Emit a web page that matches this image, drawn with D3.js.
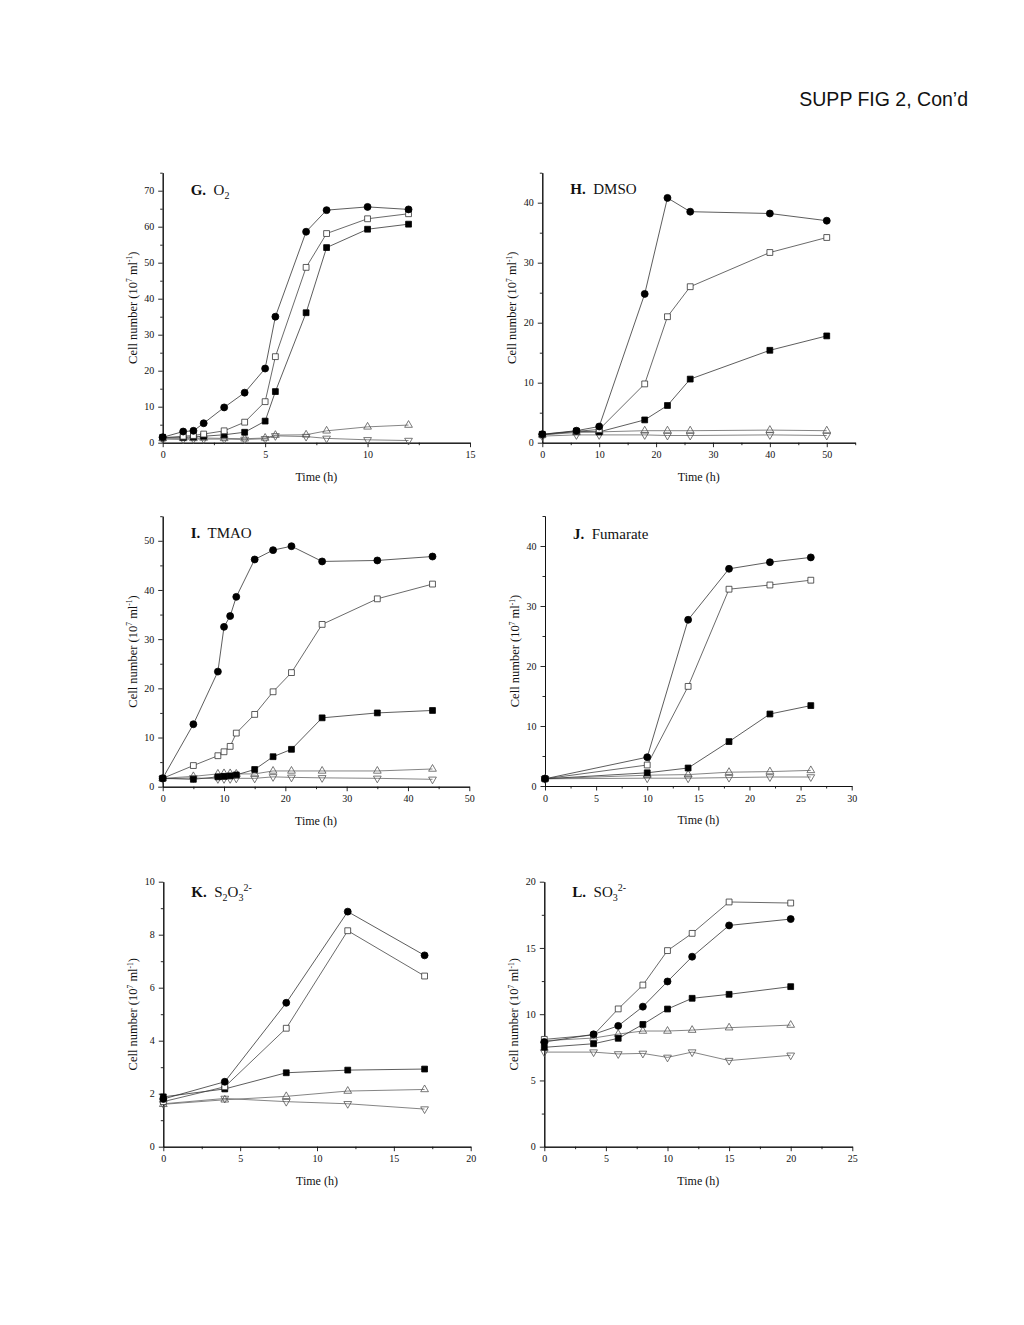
<!DOCTYPE html>
<html>
<head>
<meta charset="utf-8">
<script src="https://cdn.jsdelivr.net/npm/d3@7"></script>
<style>
  body { margin: 0; background: #fff; }
  svg text { font-family: "Liberation Serif", "Times New Roman", serif; fill: #111; }
</style>
</head>
<body>
<svg id="fig" width="1024" height="1325"></svg>
<script>
// ---- data (cell number, 10^7 per ml) ----
// series order: filled circle, open square, filled square, open triangle up, open triangle down

// G. O2
var gTime     = [0, 1, 1.5, 2, 3, 4, 5, 5.5, 7, 8, 10, 12];
var gCircle   = [1.5, 3.1, 3.3, 5.4, 9.8, 13.9, 20.6, 35.0, 58.6, 64.6, 65.5, 64.8];
var gOpenSq   = [1.3, 1.8, 2.0, 2.4, 3.3, 5.7, 11.4, 23.9, 48.7, 58.1, 62.2, 63.6];
var gFillSq   = [1.5, 1.5, 1.6, 1.8, 2.2, 2.9, 6.0, 14.2, 36.1, 54.2, 59.3, 60.7];
var gUp       = [1.2, 1.2, 1.2, 1.3, 1.2, 1.1, 1.3, 2.1, 2.2, 3.3, 4.4, 4.9];
var gDown     = [1.0, 0.9, 1.0, 1.0, 1.0, 0.9, 1.1, 1.9, 1.7, 1.2, 0.8, 0.6];

// H. DMSO
var hTime     = [0, 6, 10, 18, 22, 26, 40, 50];
var hCircle   = [1.4, 2.0, 2.7, 24.8, 40.8, 38.5, 38.2, 37.0];
var hOpenSq   = [1.3, 1.9, 2.2, 9.8, 21.0, 26.0, 31.7, 34.2];
var hFillSq   = [1.4, 1.9, 1.8, 3.8, 6.2, 10.6, 15.4, 17.8];
var hUp       = [1.3, 1.7, 1.8, 2.0, 2.0, 2.0, 2.1, 2.0];
var hDown     = [1.1, 1.3, 1.3, 1.3, 1.2, 1.2, 1.3, 1.2];

// I. TMAO
var iTime     = [0, 5, 9, 10, 11, 12, 15, 18, 21, 26, 35, 44];
var iCircle   = [1.7, 12.7, 23.4, 32.5, 34.7, 38.6, 46.2, 48.1, 48.9, 45.8, 46.0, 46.8];
var iOpenSq   = [1.7, 4.3, 6.3, 7.1, 8.2, 10.9, 14.7, 19.3, 23.2, 33.0, 38.2, 41.2];
var iFillSq   = [1.7, 1.5, 2.0, 2.1, 2.2, 2.4, 3.5, 6.1, 7.6, 14.0, 15.0, 15.5];
var iUp       = [1.7, 2.1, 2.6, 2.7, 2.7, 2.6, 2.6, 3.2, 3.2, 3.2, 3.2, 3.6];
var iDown     = [1.6, 1.8, 1.6, 1.6, 1.6, 1.7, 1.7, 2.0, 1.9, 1.8, 1.7, 1.5];

// J. Fumarate
var jTime     = [0, 10, 14, 18, 22, 26];
var jCircle   = [1.2, 4.8, 27.7, 36.2, 37.3, 38.1];
var jOpenSq   = [1.2, 3.5, 16.6, 32.8, 33.5, 34.3];
var jFillSq   = [1.2, 2.2, 3.0, 7.4, 12.0, 13.4];
var jUp       = [1.2, 1.8, 1.9, 2.3, 2.4, 2.6];
var jDown     = [1.2, 1.3, 1.3, 1.4, 1.5, 1.5];

// K. S2O3 2-
var kTime     = [0, 4, 8, 12, 17];
var kCircle   = [1.8, 2.45, 5.43, 8.87, 7.22];
var kOpenSq   = [1.7, 2.26, 4.47, 8.15, 6.44];
var kFillSq   = [1.88, 2.18, 2.79, 2.89, 2.93];
var kUp       = [1.6, 1.77, 1.9, 2.1, 2.16];
var kDown     = [1.62, 1.82, 1.7, 1.62, 1.42];

// L. SO3 2-
var lTime     = [0, 4, 6, 8, 10, 12, 15, 20];
var lCircle   = [7.9, 8.48, 9.12, 10.57, 12.47, 14.34, 16.7, 17.18];
var lOpenSq   = [8.1, 8.43, 10.4, 12.2, 14.8, 16.1, 18.47, 18.39];
var lFillSq   = [7.5, 7.77, 8.18, 9.23, 10.39, 11.2, 11.5, 12.08];
var lUp       = [8.0, 8.2, 8.5, 8.73, 8.73, 8.8, 8.98, 9.18];
var lDown     = [7.14, 7.14, 7.0, 7.04, 6.74, 7.14, 6.5, 6.9];

// ---- layout ----
var panels = [
  { letter: 'G.', name: [['O', 0], ['2', 1]], time: gTime, series: [gCircle, gOpenSq, gFillSq, gUp, gDown],
    left: 162.7, right: 470, top: 172.7, bottom: 442.7, xMax: 15, xStep: 5, xMinor: 2.5, yMax: 75, yStep: 10, yMinor: 5, titleY: 195 },
  { letter: 'H.', name: [['DMSO', 0]], time: hTime, series: [hCircle, hOpenSq, hFillSq, hUp, hDown],
    left: 542.3, right: 855.2, top: 172.7, bottom: 442.7, xMax: 55, xStep: 10, xMinor: 5, yMax: 45, yStep: 10, yMinor: 5, titleY: 194 },
  { letter: 'I.', name: [['TMAO', 0]], time: iTime, series: [iCircle, iOpenSq, iFillSq, iUp, iDown],
    left: 162.7, right: 469.3, top: 516.2, bottom: 786.7, xMax: 50, xStep: 10, xMinor: 5, yMax: 55, yStep: 10, yMinor: 5, titleY: 538 },
  { letter: 'J.', name: [['Fumarate', 0]], time: jTime, series: [jCircle, jOpenSq, jFillSq, jUp, jDown],
    left: 545, right: 851.7, top: 516, bottom: 786, xMax: 30, xStep: 5, xMinor: 2.5, yMax: 45, yStep: 10, yMinor: 5, titleY: 539 },
  { letter: 'K.', name: [['S', 0], ['2', 1], ['O', 0], ['3', 1], ['2-', -1]], time: kTime, series: [kCircle, kOpenSq, kFillSq, kUp, kDown],
    left: 163.3, right: 470.7, top: 881.7, bottom: 1146.7, xMax: 20, xStep: 5, xMinor: 2.5, yMax: 10, yStep: 2, yMinor: 1, titleY: 897 },
  { letter: 'L.', name: [['SO', 0], ['3', 1], ['2-', -1]], time: lTime, series: [lCircle, lOpenSq, lFillSq, lUp, lDown],
    left: 544.3, right: 852.3, top: 881.7, bottom: 1146.7, xMax: 25, xStep: 5, xMinor: 2.5, yMax: 20, yStep: 5, yMinor: 2.5, titleY: 897 }
];

var markers = [
  { type: d3.symbolCircle,   size: 38, fill: '#000', stroke: '#000', line: '#333', rot: 0 },
  { type: d3.symbolSquare,   size: 34, fill: '#fff', stroke: '#333', line: '#444', rot: 0 },
  { type: d3.symbolSquare,   size: 34, fill: '#000', stroke: '#000', line: '#333', rot: 0 },
  { type: d3.symbolTriangle, size: 26, fill: 'none', stroke: '#555', line: '#666', rot: 0 },
  { type: d3.symbolTriangle, size: 26, fill: 'none', stroke: '#555', line: '#666', rot: 180 }
];

var svg = d3.select('#fig');

svg.append('text')
  .attr('x', 968).attr('y', 106)
  .attr('text-anchor', 'end')
  .style('font-family', '"Liberation Sans", Arial, sans-serif')
  .style('font-size', '19.5px')
  .text('SUPP FIG 2, Con\u2019d');

function ticksFrom(step, max) {
  return d3.range(0, max + 1e-9, step);
}

function drawPanel(p) {
  var g = svg.append('g');
  var x = d3.scaleLinear().domain([0, p.xMax]).range([p.left, p.right]);
  var y = d3.scaleLinear().domain([0, p.yMax]).range([p.bottom, p.top]);

  var xMajor = ticksFrom(p.xStep, p.xMax);
  var yMajor = ticksFrom(p.yStep, p.yMax);
  var xMinorT = ticksFrom(p.xMinor, p.xMax).filter(function (v) { return xMajor.indexOf(v) < 0; });
  var yMinorT = ticksFrom(p.yMinor, p.yMax).filter(function (v) { return yMajor.indexOf(v) < 0; });

  // minor ticks first (no labels)
  g.append('g').attr('transform', 'translate(0,' + p.bottom + ')')
    .call(d3.axisBottom(x).tickValues(xMinorT).tickSize(2.5).tickSizeOuter(0).tickFormat(''));
  g.append('g').attr('transform', 'translate(' + p.left + ',0)')
    .call(d3.axisLeft(y).tickValues(yMinorT).tickSize(2.5).tickSizeOuter(0).tickFormat(''));

  var xa = g.append('g').attr('transform', 'translate(0,' + p.bottom + ')')
    .call(d3.axisBottom(x).tickValues(xMajor).tickSize(4.5).tickSizeOuter(0).tickPadding(4).tickFormat(d3.format('d')));
  var ya = g.append('g').attr('transform', 'translate(' + p.left + ',0)')
    .call(d3.axisLeft(y).tickValues(yMajor).tickSize(4.5).tickSizeOuter(0).tickPadding(4).tickFormat(d3.format('d')));

  g.selectAll('.domain').attr('stroke', '#111').attr('stroke-width', 1);
  g.selectAll('.tick line').attr('stroke', '#111').attr('stroke-width', 0.9);
  [xa, ya].forEach(function (a) {
    a.selectAll('text').style('font-family', '"Liberation Serif", serif').style('font-size', '10px').attr('fill', '#111');
  });

  // axis titles
  g.append('text')
    .attr('x', (p.left + p.right) / 2).attr('y', p.bottom + 38)
    .attr('text-anchor', 'middle').style('font-size', '12px')
    .text('Time (h)');

  var yl = g.append('text')
    .attr('transform', 'translate(' + (p.left - 26) + ',' + ((p.top + p.bottom) / 2) + ') rotate(-90)')
    .attr('text-anchor', 'middle').style('font-size', '12.5px');
  yl.append('tspan').text('Cell number (10');
  yl.append('tspan').attr('dy', -4.5).style('font-size', '7.5px').text('7');
  yl.append('tspan').attr('dy', 4.5).text(' ml');
  yl.append('tspan').attr('dy', -4.5).style('font-size', '7.5px').text('-1');
  yl.append('tspan').attr('dy', 4.5).text(')');

  // panel title
  var tt = g.append('text')
    .attr('x', p.left + 28).attr('y', p.titleY)
    .style('font-size', '15px');
  tt.append('tspan').style('font-weight', 'bold').text(p.letter);
  tt.append('tspan').text('\u00a0 ');
  var shift = 0;
  p.name.forEach(function (part) {
    var target = part[1] === 1 ? 4 : (part[1] === -1 ? -6 : 0);
    var ts = tt.append('tspan').attr('dy', target - shift).text(part[0]);
    if (part[1] !== 0) ts.style('font-size', '10px');
    shift = target;
  });

  // series: draw in reverse so circles sit on top
  var line = d3.line().x(function (d, i) { return x(p.time[i]); }).y(function (d) { return y(d); });
  for (var s = p.series.length - 1; s >= 0; s--) {
    var m = markers[s];
    var vals = p.series[s];
    g.append('path').datum(vals)
      .attr('d', line)
      .attr('fill', 'none')
      .attr('stroke', m.line)
      .attr('stroke-width', 0.8);
    g.append('g').selectAll('path').data(vals).enter().append('path')
      .attr('d', d3.symbol().type(m.type).size(m.size))
      .attr('transform', function (d, i) {
        return 'translate(' + x(p.time[i]) + ',' + y(d) + ') rotate(' + m.rot + ')';
      })
      .attr('fill', m.fill)
      .attr('stroke', m.stroke)
      .attr('stroke-width', 0.8);
  }
}

panels.forEach(drawPanel);
</script>
</body>
</html>
